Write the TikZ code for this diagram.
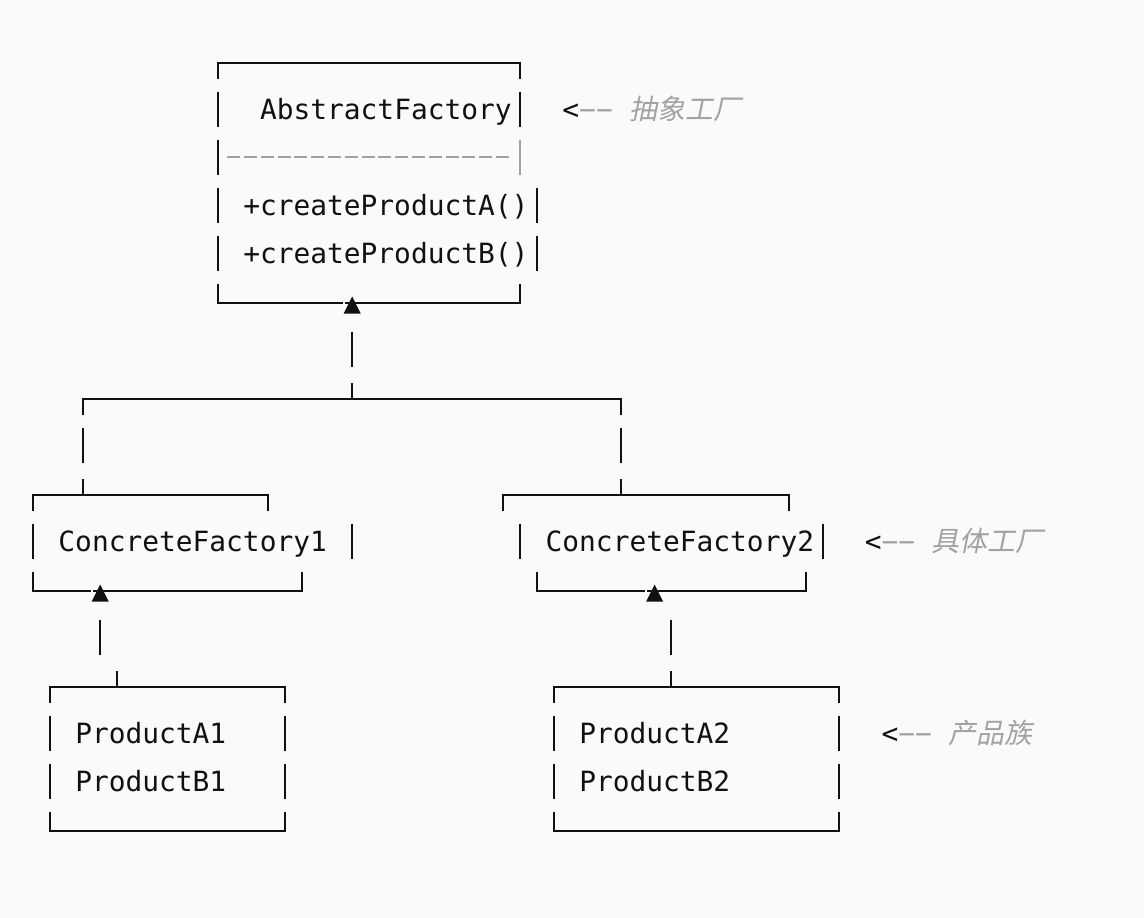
\documentclass[tikz,border=0pt]{standalone}
\usepackage{fontspec}
\setmonofont{DejaVu Sans Mono}
\newfontfamily\cjkfont[FakeSlant=0.2]{Noto Sans CJK SC}
\definecolor{paper}{HTML}{FAFAFA}
\definecolor{ink}{HTML}{111111}
\definecolor{note}{HTML}{A2A2A2}

% one text cell wide, one text row high
\newcommand{\vseg}[2]{\draw[box] (#1,#2-0.36) -- (#1,#2+0.37);}
\newcommand{\topframe}[3]{\draw[box] (#1,#3+0.37) -- (#1,#3+0.035) -- (#2,#3+0.035) -- (#2,#3+0.37);}
\newcommand{\botframe}[3]{\draw[box] (#1,#3-0.36) -- (#1,#3+0.035) -- (#2,#3+0.035) -- (#2,#3-0.36);}

\begin{document}
\begin{tikzpicture}[x=12.6pt, y=-36pt,
  every node/.style={inner sep=0pt, anchor=base west, text=ink,
    font=\ttfamily\fontsize{20.9}{36}\selectfont},
  box/.style={draw=ink, line width=1.5pt, line join=miter},
  tri/.style={fill=ink}]

\fill[paper] (-1.9643,-1.2708) rectangle (66.131,17.854);
\useasboundingbox (-1.9643,-1.2708) rectangle (66.131,17.854);

\coordinate (triAF) at (19,5.035);
\coordinate (split) at (19,7.035);
\coordinate (triCF1) at (4,11.035);
\coordinate (triCF2) at (37,11.035);
\coordinate (teeCF1) at (3,9.035);
\coordinate (teeCF2) at (35,9.035);
\coordinate (teeP1) at (5,13.035);
\coordinate (teeP2) at (38,13.035);

% abstract factory
\topframe{11}{29}{0}
\foreach \r in {1,2,3,4} {\vseg{11}{\r}}
\vseg{29}{1}
\vseg{30}{3}
\vseg{30}{4}
\draw[note, line width=1.5pt] (29,1.64) -- (29,2.37);
\draw[note, line width=1.5pt, dash pattern=on 9.75pt off 2.85pt] (11.56,2) -- (28.5,2);
\botframe{11}{29}{5}
\node (af) at (13.5,1.22) {AbstractFactory};
\node (cpa) at (12.5,3.22) {+createProductA()};
\node (cpb) at (12.5,4.22) {+createProductB()};

% tree to the concrete factories
\vseg{19}{6}
\topframe{3}{35}{7}
\draw[box] (split) -- ++(0,-0.33);
\vseg{3}{8}
\vseg{35}{8}

% concrete factory 1
\topframe{0}{14}{9}
\draw[box] (teeCF1) -- ++(0,-0.33);
\vseg{0}{10}
\vseg{19}{10}
\botframe{0}{16}{11}
\node (cf1) at (1.5,10.22) {ConcreteFactory1};

% concrete factory 2
\topframe{28}{45}{9}
\draw[box] (teeCF2) -- ++(0,-0.33);
\vseg{29}{10}
\vseg{47}{10}
\botframe{30}{46}{11}
\node (cf2) at (30.5,10.22) {ConcreteFactory2};

% products
\vseg{4}{12}
\vseg{38}{12}
\topframe{1}{15}{13}
\topframe{31}{48}{13}
\draw[box] (teeP1) -- ++(0,-0.33);
\draw[box] (teeP2) -- ++(0,-0.33);
\foreach \r in {14,15} {\vseg{1}{\r}\vseg{15}{\r}\vseg{31}{\r}\vseg{48}{\r}}
\botframe{1}{15}{16}
\botframe{31}{48}{16}
\node (pa1) at (2.5,14.22) {ProductA1};
\node (pb1) at (2.5,15.22) {ProductB1};
\node (pa2) at (32.5,14.22) {ProductA2};
\node (pb2) at (32.5,15.22) {ProductB2};

\foreach \t in {triAF,triCF1,triCF2} {
  \fill[paper] ([xshift=-6.9pt,yshift=-1.2pt]\t) rectangle ([xshift=-5.4pt,yshift=1.2pt]\t);
  \fill[tri] ([yshift=4.6pt]\t) -- ([xshift=6.4pt,yshift=-8.2pt]\t) -- ([xshift=-6.4pt,yshift=-8.2pt]\t) -- cycle;
}

\begin{scope}[every node/.style={inner sep=0pt, anchor=base west, text=note,
    font=\ttfamily\fontsize{20.9}{36}\selectfont}]
\node (noteAF) at (31.5,1.22) {\textcolor{ink}{<}−−~{\cjkfont 抽象工厂}};
\node (noteCF) at (49.5,10.22) {\textcolor{ink}{<}−−~{\cjkfont 具体工厂}};
\node (noteP) at (50.5,14.22) {\textcolor{ink}{<}−−~{\cjkfont 产品族}};
\end{scope}

\end{tikzpicture}
\end{document}
